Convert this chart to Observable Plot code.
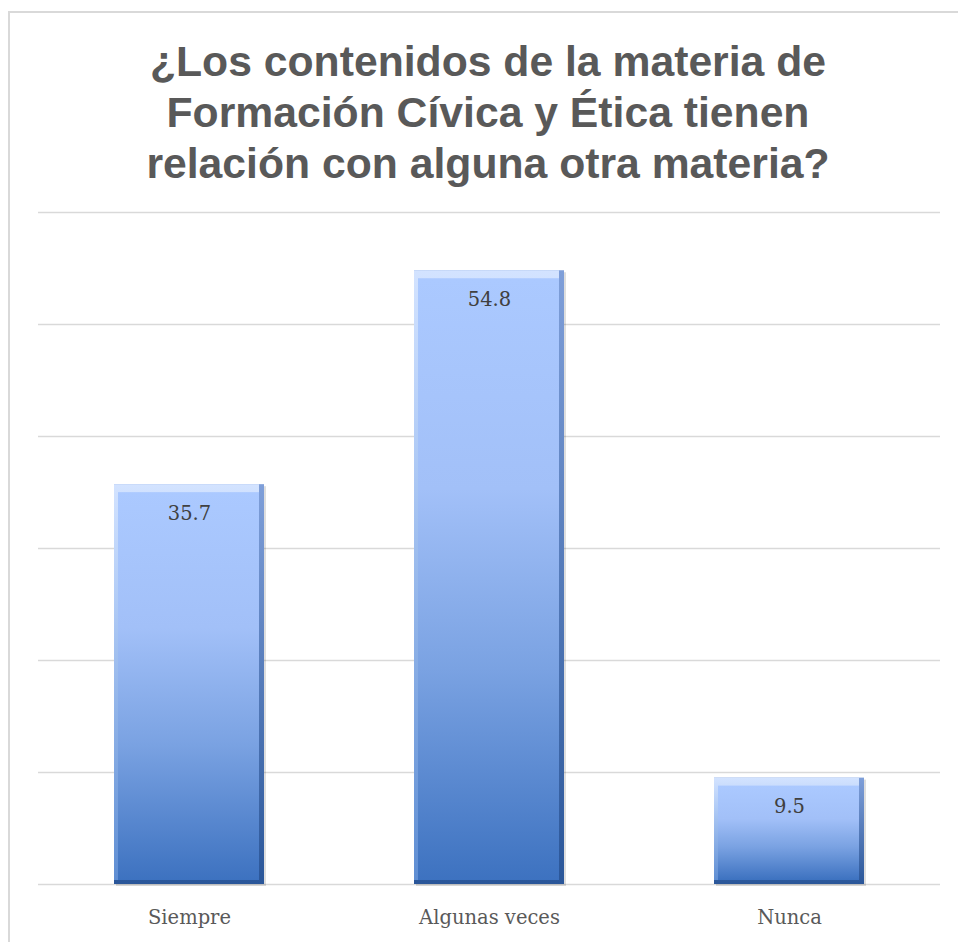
<!DOCTYPE html>
<html>
<head>
<meta charset="utf-8">
<script src="https://cdn.jsdelivr.net/npm/d3@7"></script>
<script src="https://cdn.jsdelivr.net/npm/@observablehq/plot@0.6"></script>
<style>
  html, body { margin: 0; padding: 0; background: #fff; width: 958px; height: 942px; overflow: hidden; }
  #frame { position: absolute; left: 8px; top: 11px; width: 1000px; height: 1000px; border: 2px solid #d9d9d9; box-sizing: border-box; }
  #title { position: absolute; left: 18px; top: 36px; width: 940px; text-align: center;
           font-family: "Liberation Sans", Arial, sans-serif; font-weight: bold; font-size: 42.7px;
           line-height: 51px; color: #595959; }
  #chart { position: absolute; left: 0; top: 177px; }
</style>
</head>
<body>
<div id="frame"></div>
<div id="title">¿Los contenidos de la materia de<br>Formación Cívica y Ética tienen<br>relación con alguna otra materia?</div>
<div id="chart"></div>
<script>
const categories = ["Siempre", "Algunas veces", "Nunca"];
const values = [35.7, 54.8, 9.5];
const valueLabels = ["35.7", "54.8", "9.5"];
const yTicks = [0, 10, 20, 30, 40, 50, 60];

const data = categories.map((c, i) => ({category: c, value: values[i], label: valueLabels[i]}));
const serif = "'DejaVu Serif', serif";

const plot = Plot.plot({
  width: 958,
  height: 765,
  marginTop: 35,
  marginBottom: 58,
  marginLeft: 38,
  marginRight: 18,
  style: {background: "transparent", overflow: "visible"},
  x: {type: "band", domain: categories, paddingInner: 0.5, paddingOuter: 0.25},
  y: {domain: [0, 60], axis: null},
  marks: [
    Plot.ruleY(yTicks, {stroke: "#d9d9d9", strokeWidth: 1.5}),
    Plot.barY(data, {x: "category", y: "value", fill: "#000", fillOpacity: 0.13, dx: 2, dy: 2}),
    Plot.barY(data, {x: "category", y: "value", fill: "url(#gEdge)"}),
    Plot.barY(data, {x: "category", y: "value", fill: "url(#gLight)", insetRight: 5, insetBottom: 4}),
    Plot.barY(data, {x: "category", y: "value", fill: "url(#gMain)", insetTop: 8, insetLeft: 4, insetRight: 5, insetBottom: 4}),
    Plot.text(data, {x: "category", y: "value", text: "label", dy: 29, fontSize: 19.5, fill: "#404040", fontFamily: serif}),
    Plot.axisX({tickSize: 0, tickPadding: 25.5, fontSize: 19.5, fontFamily: serif, color: "#595959", label: null})
  ]
});

const svg = d3.select(plot);
const defs = svg.insert("defs", ":first-child");
function grad(id, stops) {
  const g = defs.append("linearGradient").attr("id", id).attr("x1", 0).attr("y1", 0).attr("x2", 0).attr("y2", 1);
  stops.forEach(([o, c]) => g.append("stop").attr("offset", o).attr("stop-color", c));
}
grad("gMain", [[0, "#abc9ff"], [0.35, "#a2c0f8"], [0.65, "#7aa2e2"], [1, "#3d72c0"]]);
grad("gEdge", [[0, "#7f9fd9"], [1, "#2a5699"]]);
grad("gLight", [[0, "#d3e3ff"], [0.3, "#b0cbf6"], [1, "#5f8ed3"]]);

document.getElementById("chart").appendChild(plot);
</script>
</body>
</html>
